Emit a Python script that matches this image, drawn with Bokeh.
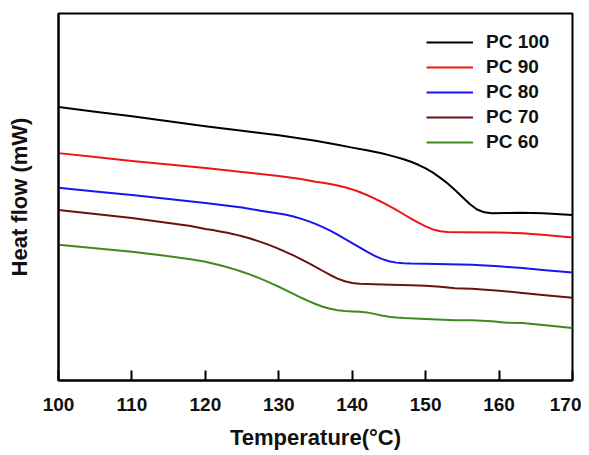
from bokeh.plotting import figure
from bokeh.models import Legend, LegendItem, FixedTicker
from bokeh.embed import file_html
from bokeh.resources import INLINE

# Temperature (deg C) and heat flow (arbitrary units) for each sample
t_pc100 = [100, 105, 110, 115, 120, 125, 130, 135, 138, 140, 142, 144, 145, 146, 147, 148, 149, 150, 151, 152, 153, 154, 155, 156, 157, 158, 159, 161, 163, 166, 170]
hf_pc100 = [274.3, 269.5, 265, 260, 255, 250.5, 246, 240.5, 236.5, 233.5, 230.8, 227.8, 226.0, 224.0, 221.8, 219.3, 216.3, 212.7, 208.4, 203.2, 197.5, 191.0, 184.0, 177.0, 171.5, 168.6, 167.8, 168, 168.3, 167.7, 166]

t_pc90 = [100, 105, 110, 115, 120, 125, 130, 133, 135, 136, 137, 138, 139, 140, 141, 142, 143, 144, 145, 146, 147, 148, 149, 150, 151, 152, 153, 155, 160, 163.2, 166.3, 170]
hf_pc90 = [228, 224, 220, 216.5, 213, 209, 205, 202, 199.3, 198.2, 197.0, 195.6, 193.8, 191.6, 189.0, 186.0, 182.6, 179.0, 175.1, 171.0, 166.7, 162.4, 158.2, 154.5, 151.5, 149.7, 149.0, 148.7, 148.5, 147.7, 146, 143.3]

t_pc80 = [100, 105, 110, 115, 120, 125, 127.5, 130, 131, 132, 133, 134, 135, 136, 137, 138, 139, 140, 141, 142, 143, 144, 145, 146, 147, 148, 150, 153, 156.3, 160, 163.2, 166.3, 170]
hf_pc80 = [193.3, 189.5, 186, 182, 178, 173.5, 170.3, 167.5, 166.2, 164.5, 162.3, 159.8, 157.0, 153.8, 150.2, 146.2, 142.0, 137.7, 133.4, 129.2, 125.3, 122.0, 119.6, 118.2, 117.5, 117.2, 117, 116.5, 116, 114.5, 112.7, 110.5, 108.3]

t_pc70 = [100, 105, 110, 115, 118, 120, 121, 122, 123, 124, 125, 126, 127, 128, 129, 130, 131, 132, 133, 134, 135, 136, 137, 138, 139, 140, 141, 142, 143, 145.3, 148, 150, 152, 154, 156.3, 160, 163.2, 166.3, 170]
hf_pc70 = [171, 167, 163, 158, 155, 152.0, 150.8, 149.5, 148.1, 146.5, 144.7, 142.6, 140.3, 137.8, 135.0, 132.0, 128.8, 125.4, 121.8, 118.0, 114.0, 109.8, 105.8, 102.2, 99.5, 97.8, 97.0, 96.7, 96.5, 96, 95.5, 95, 94, 92.5, 92, 90, 87.7, 85.5, 83]

t_pc60 = [100, 105, 110, 114, 116, 118, 119, 120, 121, 122, 123, 124, 125, 126, 127, 128, 129, 130, 131, 132, 133, 134, 135, 136, 137, 138, 139, 140, 141, 142, 143, 144, 145, 146, 147, 150, 154, 156.3, 159, 161, 163.2, 166.3, 170]
hf_pc60 = [136, 132.5, 129, 125.5, 123.7, 121.6, 120.4, 119.0, 117.4, 115.6, 113.6, 111.4, 109.0, 106.4, 103.6, 100.6, 97.4, 94.0, 90.4, 86.8, 83.2, 79.8, 76.7, 74.0, 71.9, 70.5, 69.6, 69.2, 68.9, 68.3, 66.8, 65.2, 64.0, 63.2, 62.7, 61.7, 60.5, 60.3, 59.5, 58, 57.7, 55.5, 52.7]

labels = ["PC 100", "PC 90", "PC 80", "PC 70", "PC 60"]
colors = ["#000000", "#f01419", "#1a14f5", "#6a1212", "#3f8a1e"]
x_ticks = [100, 110, 120, 130, 140, 150, 160, 170]

series = [(t_pc100, hf_pc100), (t_pc90, hf_pc90), (t_pc80, hf_pc80), (t_pc70, hf_pc70), (t_pc60, hf_pc60)]

p = figure(width=581, height=452, x_range=(100, 170), y_range=(0, 368),
           output_backend="svg", toolbar_location=None,
           min_border_left=58, min_border_right=9, min_border_top=13, min_border_bottom=71)
p.background_fill_color = "white"
p.border_fill_color = "white"
p.grid.visible = False
p.outline_line_color = "black"
p.outline_line_width = 2

items = []
for (t, hf), lab, col in zip(series, labels, colors):
    r = p.line(t, hf, line_color=col, line_width=2, line_join="round")
    items.append(LegendItem(label=lab, renderers=[r]))

font = "Liberation Sans"
xa = p.xaxis[0]
xa.ticker = FixedTicker(ticks=x_ticks)
xa.minor_tick_line_color = None
xa.major_tick_in = 10
xa.major_tick_out = 0
xa.major_tick_line_width = 2
xa.axis_line_width = 2
xa.major_label_text_font = font
xa.major_label_text_font_style = "bold"
xa.major_label_text_font_size = "19px"
xa.major_label_text_color = "#111111"
xa.major_label_standoff = 17
xa.axis_label = "Temperature(°C)"
xa.axis_label_text_font = font
xa.axis_label_text_font_style = "bold"
xa.axis_label_text_font_size = "22px"
xa.axis_label_text_color = "#111111"
xa.axis_label_standoff = 11

ya = p.yaxis[0]
ya.ticker = FixedTicker(ticks=[])
ya.minor_tick_line_color = None
ya.major_tick_line_color = None
ya.axis_line_width = 2
ya.major_label_text_font_size = "0px"
ya.axis_label = "Heat flow (mW)"
ya.axis_label_text_font = font
ya.axis_label_text_font_style = "bold"
ya.axis_label_text_font_size = "22px"
ya.axis_label_text_color = "#111111"
ya.axis_label_standoff = 27

legend = Legend(items=items, location=(368, 227))
legend.border_line_color = None
legend.background_fill_alpha = 0
legend.glyph_width = 47
legend.glyph_height = 20
legend.label_height = 20
legend.label_standoff = 13
legend.spacing = 3
legend.padding = 5
legend.margin = 0
legend.label_text_font = font
legend.label_text_font_style = "bold"
legend.label_text_font_size = "19px"
legend.label_text_color = "#111111"
p.add_layout(legend)

open("out.html", "w").write(file_html(p, INLINE))
